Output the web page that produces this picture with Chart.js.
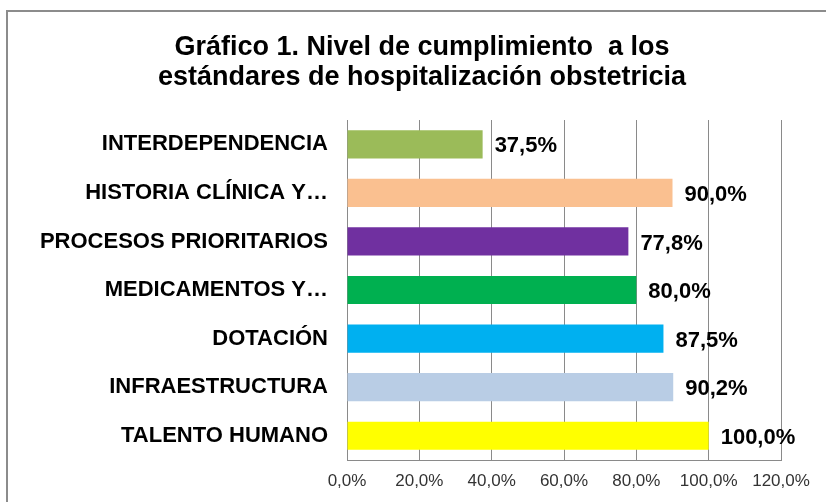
<!DOCTYPE html>
<html>
<head>
<meta charset="utf-8">
<script src="https://cdn.jsdelivr.net/npm/chart.js@4/dist/chart.umd.min.js"></script>
<style>
  html, body { margin: 0; padding: 0; background: #fff; }
  #wrap { width: 826px; height: 502px; }
</style>
</head>
<body>
<div id="wrap"><canvas id="cumplimientoChart" width="826" height="502"></canvas></div>
<script>
// datos
var categorias = ['INTERDEPENDENCIA', 'HISTORIA CLÍNICA Y…', 'PROCESOS PRIORITARIOS', 'MEDICAMENTOS Y…', 'DOTACIÓN', 'INFRAESTRUCTURA', 'TALENTO HUMANO'];
var valores = [37.5, 90.0, 77.8, 80.0, 87.5, 90.2, 100.0];
var colores = ['#9BBB59', '#FAC090', '#7030A0', '#00B050', '#00B0F0', '#B9CDE5', '#FFFF00'];
var etiquetasEje = ['0,0%', '20,0%', '40,0%', '60,0%', '80,0%', '100,0%', '120,0%'];
var titulo = ['Gráfico 1. Nivel de cumplimiento  a los', 'estándares de hospitalización obstetricia'];

function formatoPct(v) {
    return v.toFixed(1).replace('.', ',') + '%';
}

// marco gris y etiquetas de valor
var marcoPlugin = {
    id: 'marco',
    beforeDraw: function(chart) {
        var ctx = chart.ctx;
        ctx.save();
        ctx.fillStyle = '#ffffff';
        ctx.fillRect(0, 0, chart.width, chart.height);
        ctx.strokeStyle = '#8c8c8c';
        ctx.lineWidth = 2;
        ctx.strokeRect(7, 11, chart.width + 20, chart.height + 20);
        ctx.restore();
    }
};

var etiquetasPlugin = {
    id: 'etiquetas',
    afterDatasetsDraw: function(chart) {
        var ctx = chart.ctx;
        var meta = chart.getDatasetMeta(0);
        ctx.save();
        ctx.font = 'bold 22px "Liberation Sans", Arial, sans-serif';
        ctx.fillStyle = '#000';
        ctx.textAlign = 'left';
        ctx.textBaseline = 'middle';
        meta.data.forEach(function(bar, i) {
            ctx.fillText(formatoPct(valores[i]), bar.x + 12, bar.y + 2);
        });
        ctx.restore();
    }
};

var ctx = document.getElementById('cumplimientoChart').getContext('2d');
var chart = new Chart(ctx, {
    type: 'bar',
    data: {
        labels: categorias,
        datasets: [{
            data: valores,
            backgroundColor: colores,
            borderWidth: 0,
            categoryPercentage: 1,
            barPercentage: 0.58
        }]
    },
    options: {
        indexAxis: 'y',
        responsive: false,
        animation: false,
        layout: { padding: { left: 18, right: 0, top: 0, bottom: 0 } },
        plugins: {
            legend: { display: false },
            tooltip: { enabled: false },
            title: {
                display: true,
                text: titulo,
                color: '#000',
                font: { family: '"Liberation Sans", Arial, sans-serif', size: 27, weight: 'bold', lineHeight: 1.13 },
                padding: { top: 32, bottom: 27 }
            }
        },
        scales: {
            x: {
                min: 0,
                max: 120,
                ticks: {
                    stepSize: 20,
                    maxRotation: 0,
                    padding: 11,
                    color: '#333333',
                    font: { family: '"Liberation Sans", Arial, sans-serif', size: 17 },
                    callback: function(value, index) { return etiquetasEje[index]; }
                },
                grid: { color: '#8a8a8a', drawTicks: false },
                border: { color: '#8a8a8a' },
                afterFit: function(scale) {
                    scale.height = 42;
                    scale.paddingRight = 45;
                }
            },
            y: {
                ticks: {
                    padding: 19,
                    color: '#000',
                    font: { family: '"Liberation Sans", Arial, sans-serif', size: 22, weight: 'bold' }
                },
                grid: { display: false, drawTicks: false },
                border: { color: '#8a8a8a' },
                afterFit: function(scale) { scale.width = 329; }
            }
        }
    },
    plugins: [marcoPlugin, etiquetasPlugin]
});
</script>
</body>
</html>
